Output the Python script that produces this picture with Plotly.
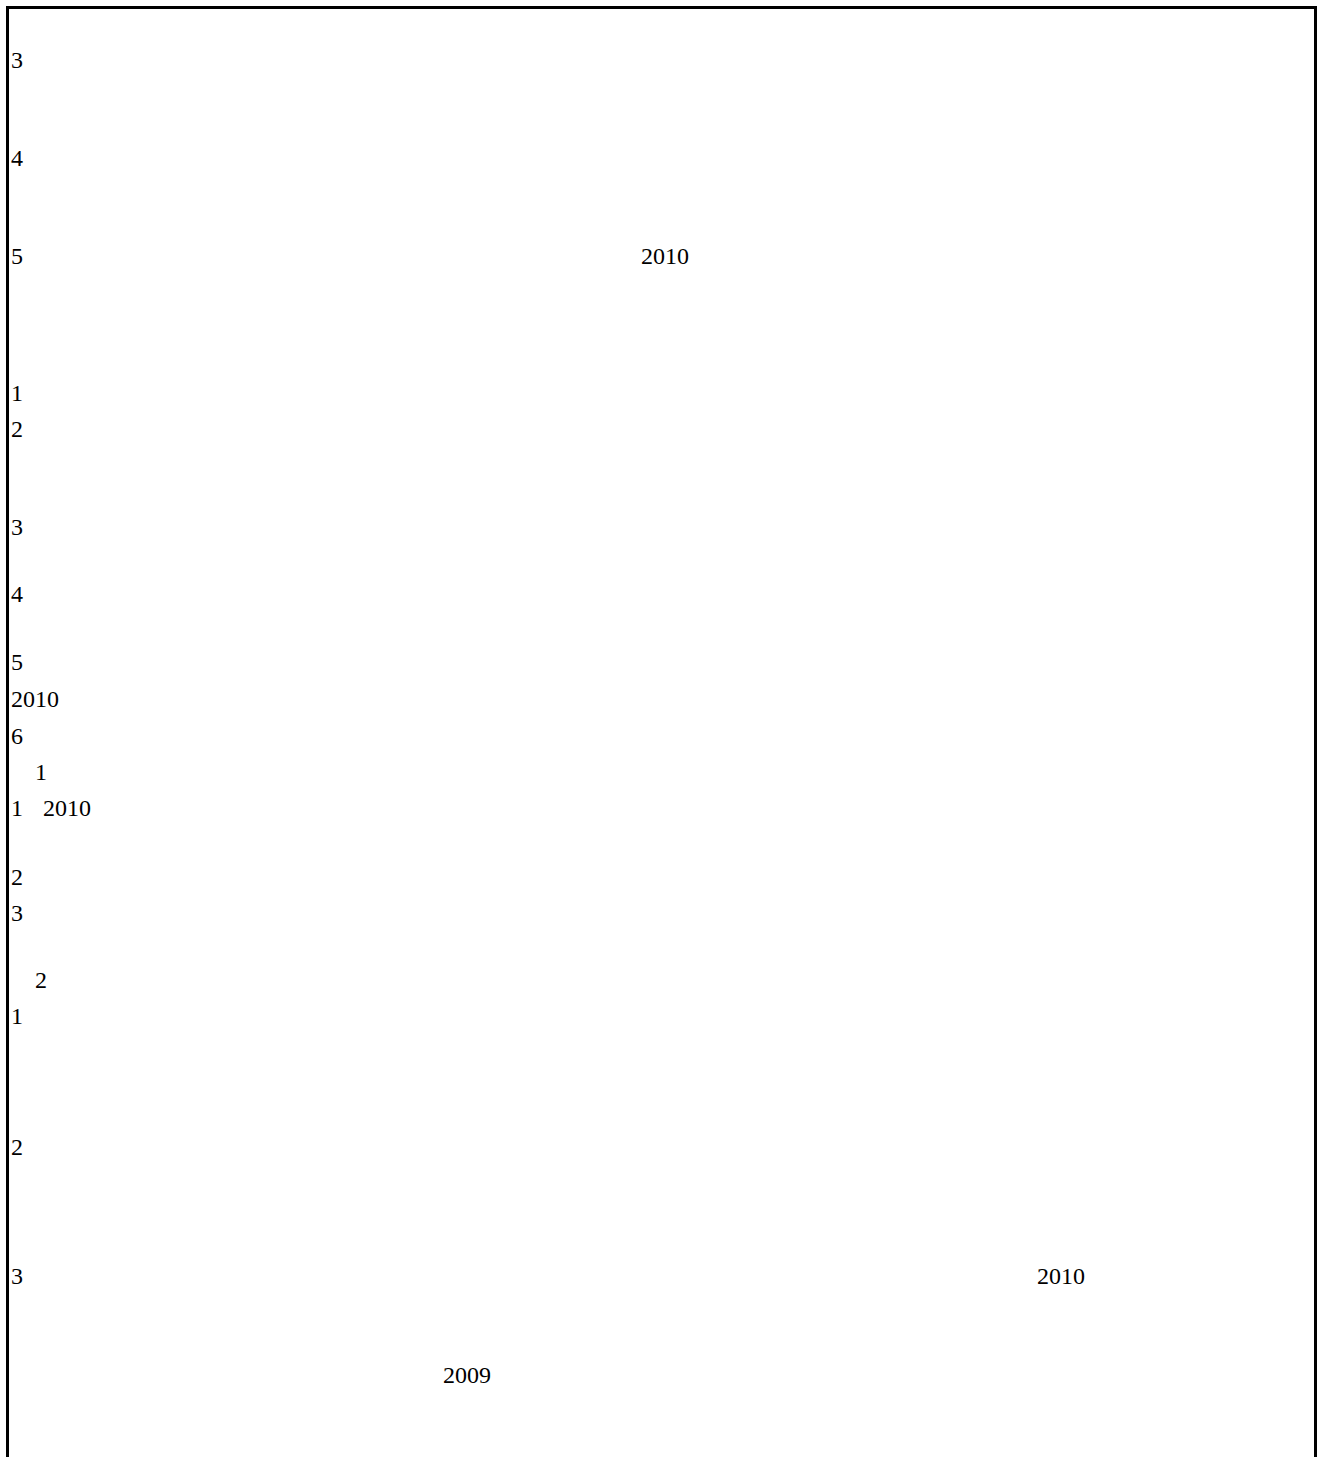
import plotly.graph_objects as go

# Page size (pixels) -- the reference is a bordered text page
PAGE_W = 1323
PAGE_H = 1457

# Text items visible on the page (label, left position, line centre)
labels = ["3", "4", "5", "2010", "1", "2", "3", "4", "5", "2010", "6",
          "1", "1", "2010", "2", "3", "2", "1", "2", "3", "2010", "2009"]
x_left = [11, 11, 11, 641, 11, 11, 11, 11, 11, 11, 11,
          35, 11, 43, 11, 11, 35, 11, 11, 11, 1037, 443]
y_mid = [61.5, 160, 257.5, 258, 395, 431, 529, 596, 664, 701, 738,
         774, 810, 810, 879, 915, 982, 1018, 1149, 1278, 1278, 1377]

fig = go.Figure()
fig.add_trace(go.Scatter(
    x=x_left,
    y=y_mid,
    mode="text",
    text=labels,
    textposition="middle right",
    textfont=dict(family="Liberation Serif", size=24, color="#000000"),
    hoverinfo="skip",
    showlegend=False,
))

# page border (open at the bottom, running off the page)
fig.add_shape(type="rect", xref="x", yref="y",
              x0=7.5, x1=1315.5, y0=7.5, y1=PAGE_H + 20,
              line=dict(color="#000000", width=3), fillcolor="rgba(0,0,0,0)")

fig.update_xaxes(range=[0, PAGE_W], visible=False, fixedrange=True)
fig.update_yaxes(range=[PAGE_H, 0], visible=False, fixedrange=True)
fig.update_layout(
    width=PAGE_W, height=PAGE_H,
    margin=dict(l=0, r=0, t=0, b=0),
    paper_bgcolor="#ffffff", plot_bgcolor="#ffffff",
    showlegend=False,
)
fig.write_html(
    "out.html",
    config={"displayModeBar": False},
    post_script="document.body.style.margin='0';document.body.style.overflow='hidden';",
)
